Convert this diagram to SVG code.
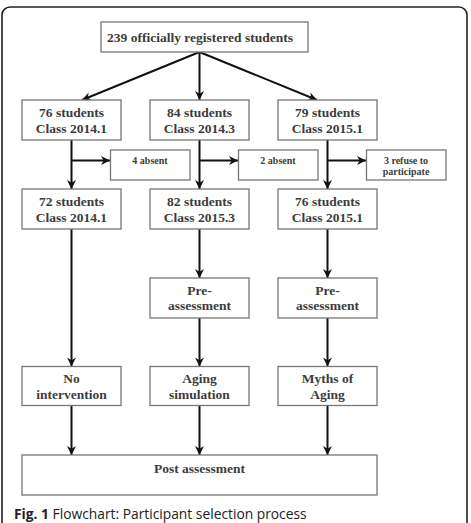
<svg xmlns="http://www.w3.org/2000/svg" width="471" height="523" viewBox="0 0 471 523">
<defs>
<marker id="ah" viewBox="0 0 10 10" refX="10" refY="5" markerWidth="9" markerHeight="9" markerUnits="userSpaceOnUse" orient="auto">
<path d="M0,0 L10,5 L0,10 L3,5 z" fill="#111"/>
</marker>
<style>
.box{fill:#fff;stroke:#777;stroke-width:1.3}
.t{font-family:"Liberation Serif",serif;font-weight:bold;font-size:13.5px;fill:#3c3c3c;text-anchor:middle}
.s{font-family:"Liberation Serif",serif;font-weight:bold;font-size:10px;fill:#3c3c3c;text-anchor:middle}
.c{stroke:#111;stroke-width:2;fill:none;marker-end:url(#ah)}
.cap{font-family:"Open Sans",sans-serif;font-size:13.8px;fill:#222}
</style>
</defs>
<rect x="0" y="0" width="471" height="523" fill="#fff"/>
<rect x="2" y="7" width="465" height="530" rx="8" fill="none" stroke="#222" stroke-width="1.6"/>

<g id="connectors">
<path class="c" d="M199.5,52 L82,100"/>
<path class="c" d="M199.5,52 L199.5,100"/>
<path class="c" d="M199.5,52 L317,100"/>
<path class="c" d="M71.5,140 L71.5,189"/>
<path class="c" d="M199.5,140 L199.5,189"/>
<path class="c" d="M327.5,140 L327.5,189"/>
<path class="c" d="M71.5,160.5 L110,160.5"/>
<path class="c" d="M199.5,160.5 L238,160.5"/>
<path class="c" d="M327.5,160.5 L366,160.5"/>
<path class="c" d="M71.5,229 L71.5,366.5"/>
<path class="c" d="M199.5,229 L199.5,278"/>
<path class="c" d="M327.5,229 L327.5,278"/>
<path class="c" d="M199.5,318 L199.5,366.5"/>
<path class="c" d="M327.5,318 L327.5,366.5"/>
<path class="c" d="M71.5,406 L71.5,455"/>
<path class="c" d="M199.5,406 L199.5,455"/>
<path class="c" d="M327.5,406 L327.5,455"/>
</g>

<g id="n_total"><rect class="box" x="101" y="22" width="207" height="30"/><text class="t" x="200" y="41.5">239 officially registered students</text></g>

<g id="n_a1"><rect class="box" x="22" y="100" width="99" height="40"/><text class="t" x="71.5" y="117">76 students</text><text class="t" x="71.5" y="133">Class 2014.1</text></g>
<g id="n_b1"><rect class="box" x="150" y="100" width="99" height="40"/><text class="t" x="199.5" y="117">84 students</text><text class="t" x="199.5" y="133">Class 2014.3</text></g>
<g id="n_c1"><rect class="box" x="278" y="100" width="99" height="40"/><text class="t" x="327.5" y="117">79 students</text><text class="t" x="327.5" y="133">Class 2015.1</text></g>

<g id="n_abs4"><rect class="box" x="110.5" y="150" width="79.5" height="30"/><text class="s" x="150" y="164">4 absent</text></g>
<g id="n_abs2"><rect class="box" x="238.5" y="150" width="79.5" height="30"/><text class="s" x="278" y="164">2 absent</text></g>
<g id="n_ref3"><rect class="box" x="366.5" y="150" width="79.5" height="30"/><text class="s" x="406" y="164">3 refuse to</text><text class="s" x="406" y="175">participate</text></g>

<g id="n_a2"><rect class="box" x="22" y="189" width="99" height="40"/><text class="t" x="71.5" y="206">72 students</text><text class="t" x="71.5" y="222">Class 2014.1</text></g>
<g id="n_b2"><rect class="box" x="150" y="189" width="99" height="40"/><text class="t" x="199.5" y="206">82 students</text><text class="t" x="199.5" y="222">Class 2015.3</text></g>
<g id="n_c2"><rect class="box" x="278" y="189" width="99" height="40"/><text class="t" x="327.5" y="206">76 students</text><text class="t" x="327.5" y="222">Class 2015.1</text></g>

<g id="n_b3"><rect class="box" x="150" y="278" width="99" height="40"/><text class="t" x="199.5" y="295">Pre-</text><text class="t" x="199.5" y="310">assessment</text></g>
<g id="n_c3"><rect class="box" x="278" y="278" width="99" height="40"/><text class="t" x="327.5" y="295">Pre-</text><text class="t" x="327.5" y="310">assessment</text></g>

<g id="n_a4"><rect class="box" x="22" y="366.5" width="99" height="39"/><text class="t" x="71.5" y="383">No</text><text class="t" x="71.5" y="399">intervention</text></g>
<g id="n_b4"><rect class="box" x="150" y="366.5" width="99" height="39"/><text class="t" x="199.5" y="383">Aging</text><text class="t" x="199.5" y="399">simulation</text></g>
<g id="n_c4"><rect class="box" x="278" y="366.5" width="99" height="39"/><text class="t" x="327.5" y="383">Myths of</text><text class="t" x="327.5" y="399">Aging</text></g>

<g id="n_post"><rect class="box" x="22" y="455" width="355" height="40"/><text class="t" x="199.5" y="473">Post assessment</text></g>

<text class="cap" x="14" y="518.5"><tspan font-weight="bold">Fig. 1</tspan> Flowchart: Participant selection process</text>
</svg>
